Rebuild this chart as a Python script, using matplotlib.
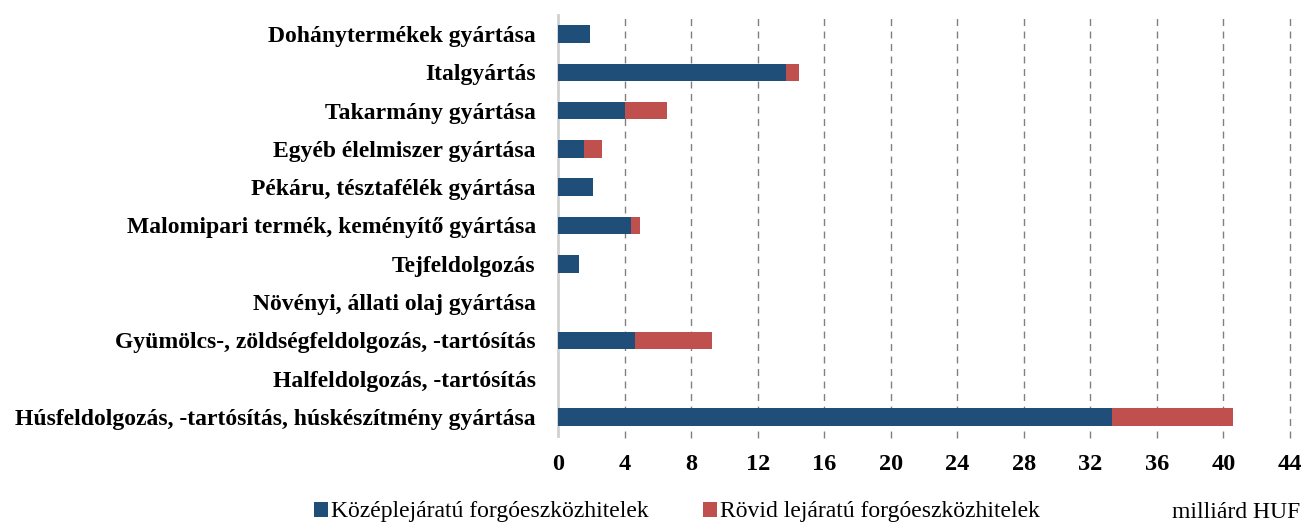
import matplotlib.pyplot as plt
import numpy as np
from matplotlib.patches import Patch

# data (milliárd HUF), top to bottom as in chart
categories = ["Dohánytermékek gyártása", "Italgyártás", "Takarmány gyártása",
              "Egyéb élelmiszer gyártása", "Pékáru, tésztafélék gyártása",
              "Malomipari termék, keményítő gyártása", "Tejfeldolgozás",
              "Növényi, állati olaj gyártása",
              "Gyümölcs-, zöldségfeldolgozás, -tartósítás",
              "Halfeldolgozás, -tartósítás",
              "Húsfeldolgozás, -tartósítás, húskészítmény gyártása"]
kozep = [1.95, 13.7, 4.0, 1.55, 2.1, 4.4, 1.27, 0.0, 4.65, 0.0, 33.3]
rovid = [0.0, 0.8, 2.55, 1.1, 0.0, 0.5, 0.0, 0.0, 4.6, 0.0, 7.3]
xticks = np.arange(0, 45, 4)

blue = "#1F4E79"
red = "#C0504D"
plt.rcParams['font.family'] = ['Liberation Serif', 'DejaVu Serif']

fig = plt.figure(figsize=(13.07, 5.22), dpi=100)
ax = fig.add_axes([558/1307, 1-436/522, (1290-558)/1307, 421/522])

y = np.arange(len(categories))
ax.barh(y, kozep, height=0.46, color=blue, edgecolor='none', zorder=3)
ax.barh(y, rovid, left=kozep, height=0.46, color=red, edgecolor='none', zorder=3)

ax.set_ylim(len(categories) - 0.5, -0.5)
ax.set_xlim(0, 44)
ax.set_yticks(y)
ax.set_yticklabels(categories, fontsize=17, fontweight='bold')
ax.set_xticks(xticks)
ax.set_xticklabels([str(t) for t in xticks], fontsize=17.5, fontweight='bold')
ax.tick_params(axis='y', length=0, pad=16)
ax.tick_params(axis='x', length=0, pad=13)

for t in xticks[1:]:
    ax.axvline(t, color='#808080', lw=1, ls=(0, (5, 4)), zorder=1, clip_on=False,
               ymin=-0.005, ymax=1)
for s in ['top', 'right', 'bottom']:
    ax.spines[s].set_visible(False)
ax.spines['left'].set_color('#D0D0D0')
ax.spines['left'].set_linewidth(2)

handles = [Patch(facecolor=blue, label="Középlejáratú forgóeszközhitelek"),
           Patch(facecolor=red, label="Rövid lejáratú forgóeszközhitelek")]
fig.legend(handles=handles, loc='center', bbox_to_anchor=(0.5176, 1-512/522),
           ncol=2, frameon=False, fontsize=17, handlelength=0.62, handleheight=0.62,
           handletextpad=0.1, columnspacing=2.3, borderpad=0, borderaxespad=0)
fig.text(1300/1307, 1-512/522, "milliárd HUF", fontsize=17, ha='right', va='center')

fig.savefig("out.png", dpi=100)
